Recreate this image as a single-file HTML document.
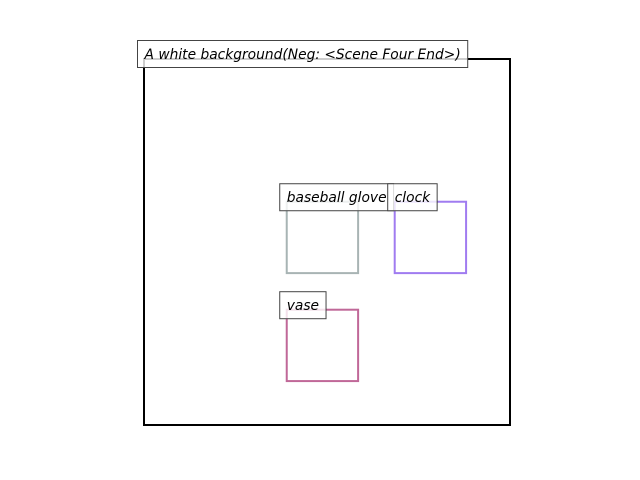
<!DOCTYPE html>
<html><head><meta charset="utf-8"><style>
html,body{margin:0;padding:0;background:#fff;width:640px;height:480px;overflow:hidden}
svg text{font-family:"DejaVu Sans","Liberation Sans",sans-serif;font-style:italic;font-size:13.8px;fill:#000}
</style></head><body>
<svg id="chart" width="640" height="480" xmlns="http://www.w3.org/2000/svg"></svg>
<script>
// boxes in normalized scene coordinates (0..1), origin top-left
const names = ["baseball glove", "clock", "vase"];
const x0s = [0.39, 0.685, 0.39];
const y0s = [0.39, 0.39, 0.685];
const x1s = [0.585, 0.88, 0.585];
const y1s = [0.585, 0.585, 0.88];
const colors = ["#a8b4b4", "#a07cf0", "#c06898"];
const title = "A white background(Neg: <Scene Four End>)";

const svg = document.getElementById('chart');
const NS = "http://www.w3.org/2000/svg";
const L = 144, T = 59, W = 366, H = 366;
const sx = v => L + v * W;
const sy = v => T + v * H;

function mk(tag, attrs) {
  const e = document.createElementNS(NS, tag);
  for (const k in attrs) e.setAttribute(k, attrs[k]);
  svg.appendChild(e);
  return e;
}
function label(x, y, text, name) {
  const t = mk('text', {x: x + 7, y: y + 18.5});
  t.textContent = text;
  
  
  const w = t.getComputedTextLength() + 14;
  const r = mk('rect', {x: x, y: y, width: w, height: 27, fill: 'rgba(255,255,255,0.8)', stroke: '#444', 'stroke-width': 1});
  
  
  svg.appendChild(t);
}

const frame = mk('rect', {x: L, y: T, width: W, height: H, fill: 'none', stroke: '#000', 'stroke-width': 2});



for (let i = 0; i < names.length; i++) {
  const r = mk('rect', {x: sx(x0s[i]), y: sy(y0s[i]), width: sx(x1s[i]) - sx(x0s[i]), height: sy(y1s[i]) - sy(y0s[i]), fill: 'none', stroke: colors[i], 'stroke-width': 2});
  
  
}
for (let i = 0; i < names.length; i++) {
  label(sx(x0s[i]) - 7, sy(y0s[i]) - 18, names[i], 'object-label-' + names[i].replace(/ /g, '-'));
}
label(137.5, 40.5, title, 'scene-title');
</script>
</body></html>
